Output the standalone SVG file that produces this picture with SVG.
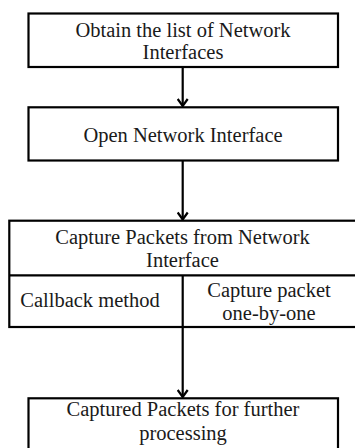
<svg xmlns="http://www.w3.org/2000/svg" width="355" height="448" viewBox="0 0 355 448">
  <style>
    .box { fill: #ffffff; stroke: #000000; stroke-width: 2.2; }
    .edge { fill: none; stroke: #000000; stroke-width: 2.2; }
    .label { font-family: 'Liberation Serif', 'Times New Roman', Times, 'DejaVu Serif', serif; font-size: 20.5px; fill: #1a1a1a; text-anchor: middle; }
  </style>
  <defs>
    <!-- open chevron head; drawn along +x so orient="auto" turns it with the line -->
    <marker id="chevron" viewBox="0 0 10 12" refX="9" refY="6" markerWidth="10" markerHeight="12" markerUnits="userSpaceOnUse" orient="auto">
      <path d="M2,1 L9,6 L2,11" fill="none" stroke="#000000" stroke-width="2.2"/>
    </marker>
  </defs>
  <rect width="355" height="448" fill="#ffffff"/>

  <g id="connectors">
    <line class="edge" x1="182.7" y1="67" x2="182.7" y2="106" marker-end="url(#chevron)"/>
    <line class="edge" x1="182.7" y1="161" x2="182.7" y2="219.5" marker-end="url(#chevron)"/>
    <line class="edge" x1="182.7" y1="327" x2="182.7" y2="397" marker-end="url(#chevron)"/>
  </g>

  <g id="node-obtain-list">
    <rect class="box" x="28.5" y="13.5" width="309.5" height="53.5"/>
    <text class="label" x="183" y="36.5">Obtain the list of Network</text>
    <text class="label" x="183" y="59">Interfaces</text>
  </g>

  <g id="node-open-interface">
    <rect class="box" x="28.5" y="107.3" width="309.5" height="53.2"/>
    <text class="label" x="183" y="141.5">Open Network Interface</text>
  </g>

  <g id="node-capture-packets">
    <rect class="box" x="9.3" y="220.7" width="348" height="106.3"/>
    <line class="edge" x1="9.3" y1="275.3" x2="357" y2="275.3"/>
    <line class="edge" x1="182.7" y1="275.3" x2="182.7" y2="327"/>
    <text class="label" x="182.5" y="243.5">Capture Packets from Network</text>
    <text class="label" x="182.5" y="267">Interface</text>
    <text class="label" x="90" y="307">Callback method</text>
    <text class="label" x="269" y="296.5">Capture packet</text>
    <text class="label" x="269" y="320">one-by-one</text>
  </g>

  <g id="node-captured-packets">
    <rect class="box" x="28.5" y="398.3" width="309.5" height="56"/>
    <text class="label" x="183" y="415.5">Captured Packets for further</text>
    <text class="label" x="183" y="439.5">processing</text>
  </g>
</svg>
